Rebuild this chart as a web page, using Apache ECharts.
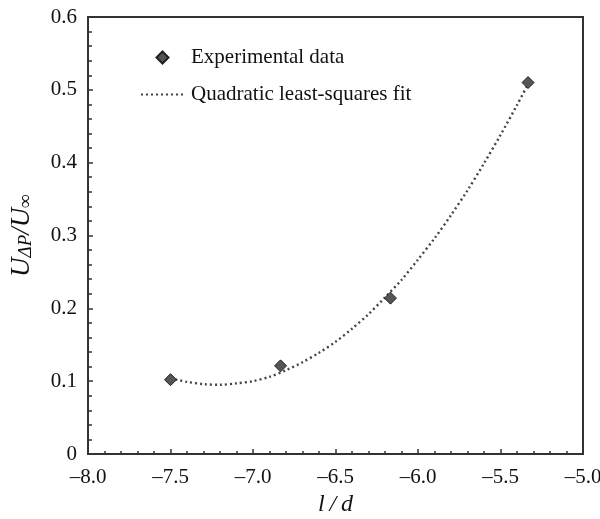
<!DOCTYPE html>
<html>
<head>
<meta charset="utf-8">
<script src="https://cdn.jsdelivr.net/npm/echarts@6/dist/echarts.min.js"></script>
<style>html,body{margin:0;padding:0;background:#fff}#c{width:600px;height:519px}</style>
</head>
<body>
<div id="c"></div>
<script>
var expX = [-7.5, -6.833, -6.167, -5.333];
var expY = [0.102, 0.121, 0.214, 0.510];
// Quadratic least-squares fit curve
var fitX = [-7.5, -7.4, -7.3, -7.2, -7.1, -7.0, -6.9, -6.8, -6.7, -6.6, -6.5, -6.4, -6.3, -6.2, -6.1, -6.0, -5.9, -5.8, -5.7, -5.6, -5.5, -5.4, -5.333];
var fitY = [0.104, 0.099, 0.096, 0.095, 0.097, 0.100, 0.106, 0.115, 0.126, 0.139, 0.154, 0.172, 0.192, 0.215, 0.239, 0.267, 0.296, 0.328, 0.362, 0.399, 0.438, 0.479, 0.508];
var seriesNames = ['Experimental data', 'Quadratic least-squares fit'];
var xTicks = {min: -8, max: -5, step: 0.5};
var yTicks = {min: 0, max: 0.6, step: 0.1};

var FONT = "'Liberation Serif', 'Times New Roman', serif";
var chart = echarts.init(document.getElementById('c'), null, {renderer: 'canvas'});

function pairs(xs, ys) { return xs.map(function (x, i) { return [x, ys[i]]; }); }

var option = {
  animation: false,
  backgroundColor: '#fff',
  textStyle: {fontFamily: FONT, color: '#111'},
  grid: {left: 88, right: 17, top: 17, bottom: 65, outerBoundsMode: 'none', containLabel: false,
    show: true, borderColor: '#333', borderWidth: 2, backgroundColor: 'transparent'},
  legend: {
    left: 140, top: 47, orient: 'vertical', padding: 0,
    itemWidth: 43, itemHeight: 12, itemGap: 16, symbolKeepAspect: true,
    textStyle: {fontFamily: FONT, fontSize: 21, color: '#111', lineHeight: 20, padding: [0, 0, 0, 2]},
    data: [
      {name: seriesNames[0], icon: 'path://M0,-1L1,0L0,1L-1,0Z'},
      {name: seriesNames[1], itemStyle: {color: 'rgba(0,0,0,0)', borderWidth: 0, opacity: 0}}
    ]
  },
  xAxis: {
    type: 'value', min: xTicks.min, max: xTicks.max, interval: xTicks.step,
    splitLine: {show: false},
    axisLine: {show: true, lineStyle: {color: '#333', width: 2}},
    axisTick: {show: true, inside: true, length: 5, lineStyle: {color: '#333', width: 1.5}},
    minorTick: {show: true, splitNumber: 5, length: 3, lineStyle: {color: '#333', width: 1.5}},
    axisLabel: {fontFamily: FONT, fontSize: 21, color: '#111', margin: 13,
      formatter: function (v) { var s = v.toFixed(1); return s.replace('-', '\u2013'); }},
    name: '{it|l\u2009/\u2009d}',
    nameLocation: 'middle', nameGap: 33,
    nameTextStyle: {rich: {it: {fontFamily: FONT, fontStyle: 'italic', fontSize: 24, color: '#111'}}}
  },
  yAxis: {
    type: 'value', min: yTicks.min, max: yTicks.max, interval: yTicks.step,
    splitLine: {show: false},
    axisLine: {show: true, lineStyle: {color: '#333', width: 2}},
    axisTick: {show: true, inside: true, length: 5, lineStyle: {color: '#333', width: 1.5}},
    minorTick: {show: true, splitNumber: 5, length: 4, lineStyle: {color: '#333', width: 1.5}},
    axisLabel: {fontFamily: FONT, fontSize: 21, color: '#111', margin: 11,
      formatter: function (v) { return v === 0 ? '0' : v.toFixed(1); }},
    name: '{m|U}{s|\u0394P}{m|/U}{s|\u221E}',
    nameLocation: 'middle', nameGap: 53, nameRotate: 90,
    nameTextStyle: {rich: {
      m: {fontFamily: FONT, fontStyle: 'italic', fontSize: 27, color: '#111', lineHeight: 27, verticalAlign: 'top'},
      s: {fontFamily: FONT, fontStyle: 'italic', fontSize: 19, color: '#111', lineHeight: 19, padding: [12, 0, 0, 0], verticalAlign: 'bottom'}
    }}
  },
  series: [
    {
      name: seriesNames[1], type: 'line', data: pairs(fitX, fitY),
      symbol: 'none', smooth: 0.3, z: 2,
      itemStyle: {color: '#444'},
      lineStyle: {color: '#444', width: 2.4, type: [2, 3], cap: 'butt'}
    },
    {
      name: seriesNames[0], type: 'scatter', data: pairs(expX, expY),
      symbol: 'diamond', symbolSize: 12, symbolKeepAspect: true, z: 3,
      itemStyle: {color: '#555', borderColor: '#222', borderWidth: 1, opacity: 1}
    }
  ]
};
chart.setOption(option);
</script>
</body>
</html>
